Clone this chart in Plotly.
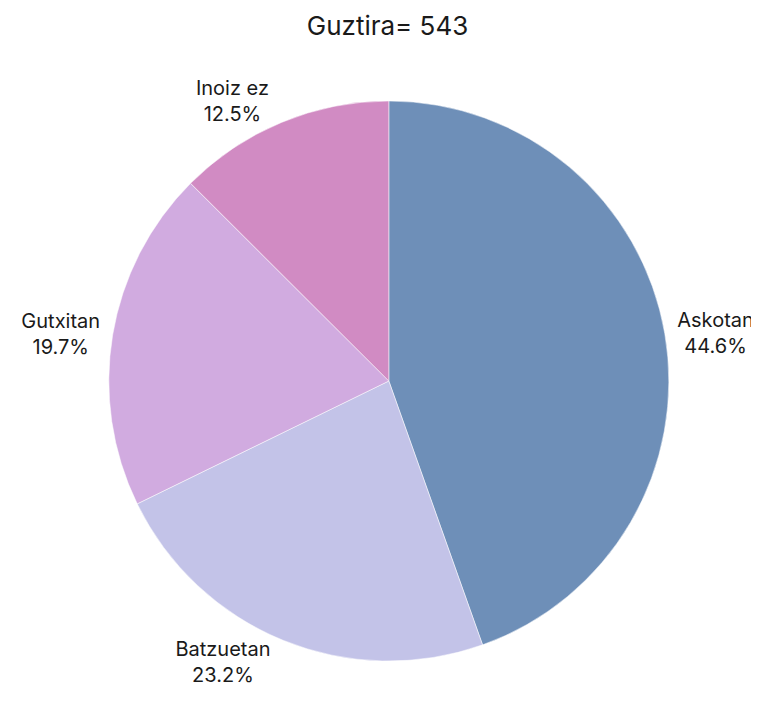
import plotly.graph_objects as go

labels = ["Askotan", "Batzuetan", "Gutxitan", "Inoiz ez"]
counts = [242, 126, 107, 68]
colors = ["#6E8FB8", "#C3C3E8", "#D1ABE0", "#D18BC3"]
title_text = "Guztira= 543"

fig = go.Figure(go.Pie(
    labels=labels,
    values=counts,
    sort=False,
    direction="clockwise",
    rotation=0,
    marker=dict(colors=colors, line=dict(color="white", width=0.5)),
    textposition="outside",
    textinfo="label+percent",
    texttemplate="%{label}<br>%{percent:.1%}",
    textfont=dict(size=20, color="#1a1a1a", family="Inter"),
    showlegend=False,
    domain=dict(x=[0.01, 1.0], y=[0.0711, 0.8677]),
))
fig.update_layout(
    width=759, height=703,
    margin=dict(l=0, r=0, t=0, b=0),
    title=dict(text=title_text, x=0.5, xanchor="center", y=0.975, yanchor="middle",
               font=dict(size=26, color="#1a1a1a", family="Inter")),
    paper_bgcolor="white",
    font=dict(family="Inter"),
)
fig.write_html("out.html")
